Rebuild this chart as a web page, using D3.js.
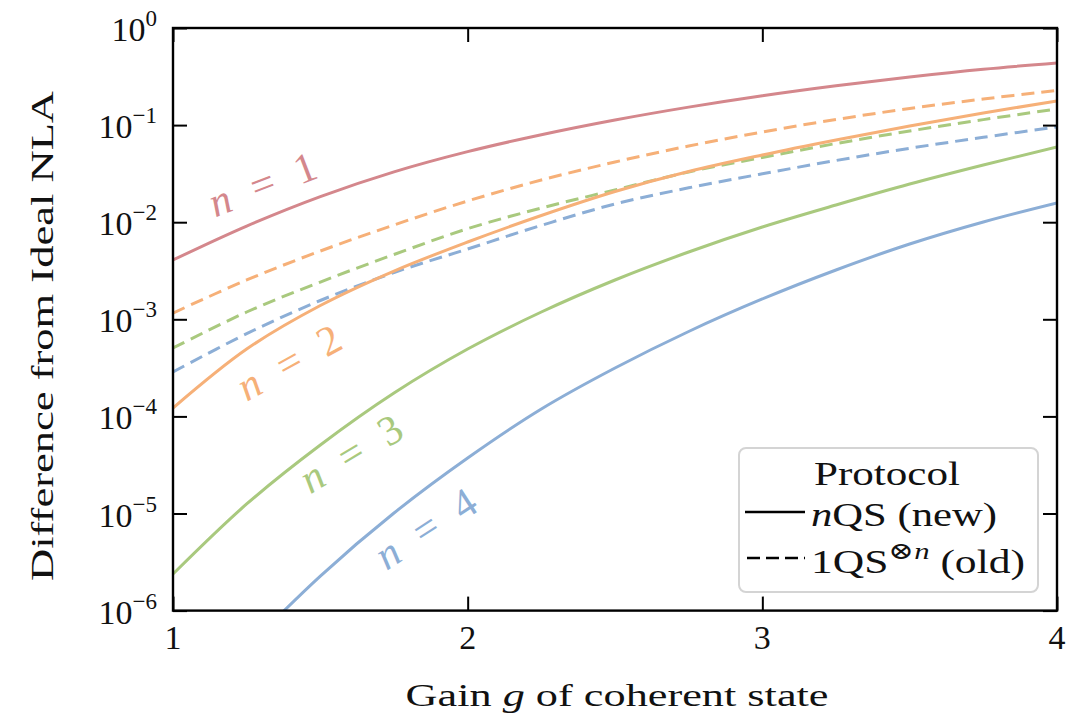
<!DOCTYPE html>
<html><head><meta charset="utf-8">
<script src="https://cdn.jsdelivr.net/npm/d3@7"></script>
<style>
body{margin:0;background:#fff;}
text{font-family:"Liberation Serif","DejaVu Serif",serif;fill:#111;}
</style></head>
<body>
<svg id="chart" width="1081" height="718"></svg>
<script>
// ---- data ----
const gain = [1, 1.25, 1.5, 1.75, 2, 2.25, 2.5, 2.75, 3, 3.25, 3.5, 3.75, 4];
const gainN4 = [1.25, 1.5, 1.75, 2, 2.25, 2.5, 2.75, 3, 3.25, 3.5, 3.75, 4];
const new_n1 = [4.08e-3, 9.12e-3, 1.835e-2, 3.30e-2, 5.33e-2, 7.96e-2, 1.129e-1, 1.532e-1, 2.008e-1, 2.545e-1, 3.135e-1, 3.763e-1, 4.361e-1];
const new_n2 = [1.22e-4, 4.94e-4, 1.387e-3, 3.14e-3, 6.25e-3, 1.172e-2, 2.07e-2, 3.33e-2, 4.92e-2, 7.02e-2, 9.79e-2, 1.332e-1, 1.771e-1];
const new_n3 = [2.38e-6, 1.253e-5, 5.08e-5, 1.742e-4, 4.94e-4, 1.189e-3, 2.54e-3, 4.93e-3, 8.92e-3, 1.503e-2, 2.47e-2, 3.88e-2, 5.95e-2];
const new_n4 = [4.12e-7, 2.27e-6, 1.012e-5, 3.73e-5, 1.192e-4, 3.15e-4, 7.49e-4, 1.619e-3, 3.22e-3, 5.96e-3, 1.005e-2, 1.577e-2];
const old_n2 = [1.16e-3, 2.54e-3, 5.05e-3, 9.36e-3, 1.654e-2, 2.72e-2, 4.17e-2, 6.09e-2, 8.49e-2, 1.142e-1, 1.483e-1, 1.857e-1, 2.272e-1];
const old_n3 = [5.06e-4, 1.189e-3, 2.42e-3, 4.65e-3, 8.57e-3, 1.40e-2, 2.15e-2, 3.29e-2, 4.64e-2, 6.46e-2, 8.69e-2, 1.139e-1, 1.465e-1];
const old_n4 = [2.87e-4, 7.11e-4, 1.562e-3, 3.03e-3, 5.30e-3, 9.27e-3, 1.54e-2, 2.26e-2, 3.15e-2, 4.32e-2, 5.77e-2, 7.49e-2, 9.56e-2];
const xTicks = [1, 2, 3, 4];
const yTicks = [0, -1, -2, -3, -4, -5, -6];
const curveLabels = ["n = 1", "n = 2", "n = 3", "n = 4"];
const colors = ["#d4878c", "#f6b078", "#a9c97e", "#8caed6"];
const legendTitle = "Protocol";
const legendItems = ["nQS (new)", "1QS⊗n (old)"];

// ---- layout ----
const svg = d3.select("#chart");
const L = 173, R = 1057, T = 28, B = 610.6;
const x = d3.scaleLinear().domain([1, 4]).range([L, R]);
const y = d3.scaleLog().domain([1e-6, 1]).range([B, T]);

svg.append("defs").append("clipPath").attr("id", "clip")
  .append("rect").attr("x", L).attr("y", T).attr("width", R - L).attr("height", B - T);

const line = d3.line().x(d => x(d[0])).y(d => y(d[1])).curve(d3.curveCatmullRom.alpha(0.5));
const plot = svg.append("g").attr("clip-path", "url(#clip)");

const series = [
  {g: gain, v: old_n2, c: colors[1], dash: true},
  {g: gain, v: old_n3, c: colors[2], dash: true},
  {g: gain, v: old_n4, c: colors[3], dash: true},
  {g: gain, v: new_n1, c: colors[0], dash: false},
  {g: gain, v: new_n2, c: colors[1], dash: false},
  {g: gain, v: new_n3, c: colors[2], dash: false},
  {g: gainN4, v: new_n4, c: colors[3], dash: false}
];
series.forEach(s => {
  plot.append("path")
    .datum(s.g.map((g, i) => [g, s.v[i]]))
    .attr("d", line)
    .attr("fill", "none")
    .attr("stroke", s.c)
    .attr("stroke-width", 3)
    .attr("stroke-dasharray", s.dash ? "13,7" : null);
});

// ---- axes (inward ticks on all sides) ----
const tk = 14;
const yt = yTicks.map(e => Math.pow(10, e));
svg.append("g").attr("transform", `translate(0,${B})`)
  .call(d3.axisBottom(x).tickValues(xTicks).tickSize(-tk).tickFormat(""));
svg.append("g").attr("transform", `translate(0,${T})`)
  .call(d3.axisTop(x).tickValues(xTicks).tickSize(-tk).tickFormat(""));
svg.append("g").attr("transform", `translate(${L},0)`)
  .call(d3.axisLeft(y).tickValues(yt).tickSize(-tk).tickFormat(""));
svg.append("g").attr("transform", `translate(${R},0)`)
  .call(d3.axisRight(y).tickValues(yt).tickSize(-tk).tickFormat(""));
svg.selectAll(".domain").remove();
svg.selectAll(".tick line").attr("stroke", "#000").attr("stroke-width", 2);
svg.append("rect").attr("x", L).attr("y", T).attr("width", R - L).attr("height", B - T)
  .attr("fill", "none").attr("stroke", "#000").attr("stroke-width", 2.4);

// tick labels
svg.append("g").selectAll("text").data(xTicks).join("text")
  .attr("x", d => x(d)).attr("y", 649).attr("text-anchor", "middle")
  .attr("font-size", 34).text(d => d);

const yl = svg.append("g").selectAll("text").data(yTicks).join("text")
  .attr("x", 157).attr("y", d => y(Math.pow(10, d)) + 13).attr("text-anchor", "end");
yl.append("tspan").attr("font-size", 34).text("10");
yl.append("tspan").attr("font-size", 23).attr("dy", -15)
  .text(d => d === 0 ? "0" : "\u2212" + (-d));

// axis titles
svg.append("text").attr("x", 617).attr("y", 706).attr("text-anchor", "middle")
  .attr("font-size", 32).attr("textLength", 423).attr("lengthAdjust", "spacingAndGlyphs")
  .html('Gain <tspan font-style="italic">g</tspan> of coherent state');
svg.append("text").attr("transform", "translate(53,336) rotate(-90)").attr("text-anchor", "middle")
  .attr("font-size", 32).attr("textLength", 490).attr("lengthAdjust", "spacingAndGlyphs")
  .text("Difference from Ideal NLA");

// curve labels
const labelPos = [[264, 188, -21], [291, 366, -29], [353, 457, -31], [428, 532, -33]];
curveLabels.forEach((t, i) => {
  const [lx, ly, rot] = labelPos[i];
  const parts = t.split(" = ");
  const tx = svg.append("text").attr("transform", `translate(${lx},${ly}) rotate(${rot})`)
    .attr("text-anchor", "middle").attr("dominant-baseline", "middle")
    .attr("font-size", 42).attr("textLength", 112).attr("lengthAdjust", "spacing")
    .style("fill", colors[i]);
  tx.append("tspan").attr("font-style", "italic").text(parts[0]);
  tx.append("tspan").text(" = " + parts[1]);
});

// legend
const lg = svg.append("g");
lg.append("rect").attr("x", 739).attr("y", 448).attr("width", 299).attr("height", 144)
  .attr("rx", 7).attr("fill", "#fff").attr("fill-opacity", 0.85)
  .attr("stroke", "#d4d4d4").attr("stroke-width", 2);
lg.append("text").attr("x", 887).attr("y", 485).attr("text-anchor", "middle")
  .attr("font-size", 34).attr("textLength", 146).attr("lengthAdjust", "spacingAndGlyphs").text(legendTitle);
lg.append("line").attr("x1", 745).attr("x2", 805).attr("y1", 512).attr("y2", 512)
  .attr("stroke", "#000").attr("stroke-width", 2.6);
lg.append("line").attr("x1", 747).attr("x2", 805).attr("y1", 558).attr("y2", 558)
  .attr("stroke", "#000").attr("stroke-width", 2.6).attr("stroke-dasharray", "13,6");
const t1 = lg.append("text").attr("x", 811).attr("y", 526).attr("font-size", 34)
  .attr("textLength", 186).attr("lengthAdjust", "spacingAndGlyphs");
t1.append("tspan").attr("font-style", "italic").text(legendItems[0].slice(0, 1));
t1.append("tspan").text(legendItems[0].slice(1));
const t2 = lg.append("text").attr("x", 811).attr("y", 573).attr("font-size", 34)
  .attr("textLength", 214).attr("lengthAdjust", "spacingAndGlyphs");
t2.append("tspan").text("1QS");
t2.append("tspan").attr("font-size", 24).attr("dy", -14).text("\u2297");
t2.append("tspan").attr("font-size", 24).attr("font-style", "italic").text("n");
t2.append("tspan").attr("dy", 14).text("\u00a0(old)");
</script>
</body></html>
